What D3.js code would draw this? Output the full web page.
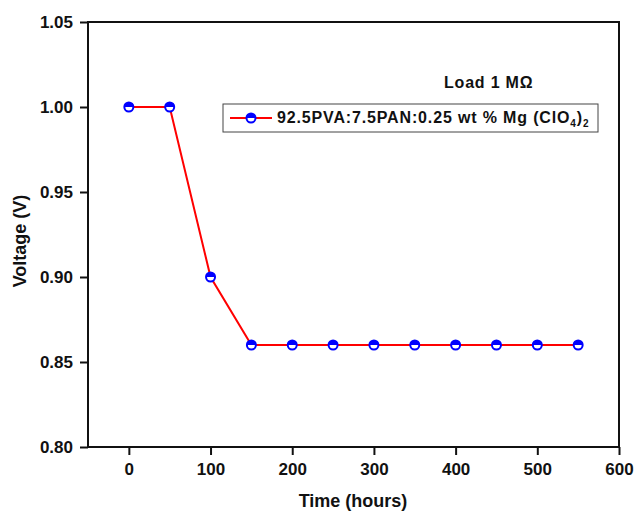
<!DOCTYPE html>
<html>
<head>
<meta charset="utf-8">
<script src="https://cdn.jsdelivr.net/npm/d3@7"></script>
<style>
  body { margin: 0; background: #fff; }
  text { font-family: "Liberation Sans", Arial, sans-serif; font-weight: bold; }
</style>
</head>
<body>
<div id="chart"></div>
<script>
// data
const timeHours = [0, 50, 100, 150, 200, 250, 300, 350, 400, 450, 500, 550];
const voltage = [1.00, 1.00, 0.90, 0.86, 0.86, 0.86, 0.86, 0.86, 0.86, 0.86, 0.86, 0.86];
const xTicks = [0, 100, 200, 300, 400, 500, 600];
const yTicks = [0.80, 0.85, 0.90, 0.95, 1.00, 1.05];

const width = 636, height = 511;
const margin = {left: 88, right: 17, top: 22, bottom: 64};
const w = width - margin.left - margin.right;
const h = height - margin.top - margin.bottom;

const svg = d3.select("#chart").append("svg")
  .attr("width", width)
  .attr("height", height);

const g = svg.append("g")
  .attr("transform", `translate(${margin.left},${margin.top})`);

const x = d3.scaleLinear().domain([-50, 600]).range([0, w]);
const y = d3.scaleLinear().domain([0.80, 1.05]).range([h, 0]);

// frame
g.append("rect")
  .attr("width", w).attr("height", h)
  .attr("fill", "none")
  .attr("stroke", "#111")
  .attr("stroke-width", 2);

// axes
const xAxis = g.append("g")
  .attr("transform", `translate(0,${h})`)
  .call(d3.axisBottom(x).tickValues(xTicks).tickSize(8).tickPadding(8).tickFormat(d3.format("d")));
const yAxis = g.append("g")
  .call(d3.axisLeft(y).tickValues(yTicks).tickSize(8).tickPadding(7).tickFormat(d3.format(".2f")));

[xAxis, yAxis].forEach(a => {
  a.select(".domain").remove();
  a.selectAll("line").attr("stroke", "#111").attr("stroke-width", 2);
  a.selectAll("text")
    .attr("fill", "#111")
    .style("font-size", "17px")
    .style("font-family", "'Liberation Sans', Arial, sans-serif")
    .style("font-weight", "bold");
});

// axis titles
svg.append("text")
  .attr("x", 353)
  .attr("y", 507)
  .attr("text-anchor", "middle")
  .style("font-size", "18px")
  .attr("fill", "#111")
  .text("Time (hours)");

svg.append("text")
  .attr("transform", `translate(26,241) rotate(-90)`)
  .attr("text-anchor", "middle")
  .style("font-size", "18px")
  .attr("fill", "#111")
  .text("Voltage (V)");

// line
const line = d3.line()
  .x((d, i) => x(timeHours[i]))
  .y(d => y(d));

g.append("path")
  .datum(voltage)
  .attr("fill", "none")
  .attr("stroke", "#ff0000")
  .attr("stroke-width", 2)
  .attr("d", line);

// half filled markers
function marker(sel, r) {
  sel.append("circle").attr("r", r).attr("fill", "#fff").attr("stroke", "#0000ff").attr("stroke-width", 2);
  sel.append("path")
    .attr("d", `M${-r},0 A${r},${r} 0 0 1 ${r},0 Z`)
    .attr("fill", "#0000ff");
}

g.selectAll(".pt")
  .data(voltage)
  .enter()
  .append("g")
  .attr("class", "pt")
  .attr("transform", (d, i) => `translate(${x(timeHours[i])},${y(d)})`)
  .each(function() { marker(d3.select(this), 4.5); });

// annotation
svg.append("text")
  .attr("x", 444)
  .attr("y", 88)
  .style("font-size", "16px")
  .style("letter-spacing", "0.8px")
  .attr("fill", "#111")
  .text("Load 1 M\u03A9");

// legend
const lg = svg.append("g");
lg.append("rect")
  .attr("x", 223).attr("y", 104)
  .attr("width", 375).attr("height", 28)
  .attr("fill", "#fff")
  .attr("stroke", "#444")
  .attr("stroke-width", 1);
lg.append("line")
  .attr("x1", 230).attr("x2", 272)
  .attr("y1", 118).attr("y2", 118)
  .attr("stroke", "#ff0000").attr("stroke-width", 2);
lg.append("g")
  .attr("transform", "translate(251,118)")
  .each(function() { marker(d3.select(this), 4.5); });

const lt = lg.append("text")
  .attr("x", 277)
  .attr("y", 123)
  .style("font-size", "16px")
  .style("letter-spacing", "0.85px")
  .attr("fill", "#111");
lt.append("tspan").text("92.5PVA:7.5PAN:0.25 wt % Mg (ClO");
lt.append("tspan").attr("dy", 4).style("font-size", "10px").text("4");
lt.append("tspan").attr("dy", -4).text(")");
lt.append("tspan").attr("dy", 4).style("font-size", "10px").text("2");
</script>
</body>
</html>
